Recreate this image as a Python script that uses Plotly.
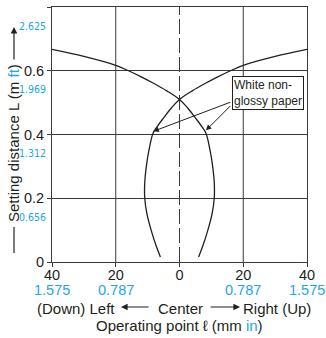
import plotly.graph_objects as go

# operating point (mm) vs setting distance (m)
curve_a_x = [-40, -30, -20, -16, -12, -8, -4, 0, 2.5, 5, 7, 8.3, 9.6, 10.4, 10.9, 10.9, 10.2, 8.9, 7.3, 6.0]
curve_a_y = [0.667, 0.645, 0.617, 0.600, 0.581, 0.560, 0.537, 0.510, 0.484, 0.452, 0.425, 0.404, 0.350, 0.300,
             0.250, 0.200, 0.150, 0.100, 0.050, 0.016]
curve_b_x = [40, 30, 20, 16, 12, 8, 4, 0, -2.5, -5, -7, -8.3, -9.6, -10.4, -10.9, -10.9, -10.2, -8.9, -7.3, -6.0]
curve_b_y = [0.667, 0.645, 0.617, 0.600, 0.581, 0.560, 0.537, 0.510, 0.484, 0.452, 0.425, 0.404, 0.350, 0.300,
             0.250, 0.200, 0.150, 0.100, 0.050, 0.016]

x_ticks = [-40, -20, 0, 20, 40]
x_tick_mm = ["40", "20", "0", "20", "40"]
x_tick_in = ["1.575", "0.787", "", "0.787", "1.575"]
y_ticks = [0, 0.2, 0.4, 0.6, 0.8]
y_tick_m = ["0", "0.2", "0.4", "0.6", "0.8"]
y_tick_ft = ["", "0.656", "1.312", "1.969", "2.625"]

INK = "#231f20"
GRID = "#3a3a3a"
BLUE = "#1ea7e1"
FONT = "Liberation Sans, Arial, sans-serif"

W, H = 326, 338
ML, MR, MT, MB = 52, 19, 7, 76
PW, PH = W - ML - MR, H - MT - MB


def px_x(px):
    return (px - ML) / PW


def px_y(py):
    return (H - MB - py) / PH


fig = go.Figure()
for cx, cy in [(curve_a_x, curve_a_y), (curve_b_x, curve_b_y)]:
    fig.add_trace(go.Scatter(x=cx, y=cy, mode="lines", line=dict(color=INK, width=1.3, shape="spline", smoothing=1.0),
                             showlegend=False, hoverinfo="skip"))

# vertical grid, center one dashed
for v in x_ticks[1:-1]:
    fig.add_vline(x=v, line=dict(color=GRID, width=1, dash="15px,4px" if v == 0 else "solid"), layer="below")

annotations = []
for v, t in zip(x_ticks, x_tick_in):
    if t:
        annotations.append(dict(x=v, xref="x", y=px_y(290), yref="paper", text=t, showarrow=False,
                                font=dict(family=FONT, size=14.5, color=BLUE), xanchor="center", yanchor="middle"))
for v, t in zip(y_ticks, y_tick_ft):
    if t:
        annotations.append(dict(x=px_x(45), xref="paper", y=v, yref="y", xshift=3, yshift=-18.5, text=t,
                                showarrow=False,
                                font=dict(family="Liberation Sans Narrow, DejaVu Sans Condensed, sans-serif",
                                          size=10.5, color=BLUE), xanchor="right", yanchor="middle"))

# bottom direction labels
annotations += [
    dict(x=px_x(117), xref="paper", y=px_y(308), yref="paper", text="(Down) Left", showarrow=False,
         font=dict(family=FONT, size=15, color=INK), xanchor="right", yanchor="middle"),
    dict(x=px_x(180), xref="paper", y=px_y(308), yref="paper", text="Center", showarrow=False,
         font=dict(family=FONT, size=15, color=INK), xanchor="center", yanchor="middle"),
    dict(x=px_x(241), xref="paper", y=px_y(308), yref="paper", text="Right (Up)", showarrow=False,
         font=dict(family=FONT, size=15, color=INK), xanchor="left", yanchor="middle"),
    dict(x=px_x(121), xref="paper", y=px_y(307), yref="paper", ax=29, ay=0, text="", showarrow=True,
         arrowhead=2, arrowsize=1.1, arrowwidth=1.2, arrowcolor=INK),
    dict(x=px_x(240), xref="paper", y=px_y(307), yref="paper", ax=-31, ay=0, text="", showarrow=True,
         arrowhead=2, arrowsize=1.1, arrowwidth=1.2, arrowcolor=INK),
    dict(x=px_x(179.5), xref="paper", y=px_y(325), yref="paper",
         text=f"Operating point ℓ (mm <span style='color:{BLUE}'>in</span>)", showarrow=False,
         font=dict(family=FONT, size=15, color=INK), xanchor="center", yanchor="middle"),
    # y title
    dict(x=px_x(13), xref="paper", y=px_y(143), yref="paper", textangle=-90,
         text=f"Setting distance L (m <span style='color:{BLUE}'>ft</span>)", showarrow=False,
         font=dict(family=FONT, size=15, color=INK), xanchor="center", yanchor="middle"),
    dict(x=px_x(14), xref="paper", y=px_y(27), yref="paper", ax=0, ay=34, text="", showarrow=True,
         arrowhead=2, arrowsize=1.1, arrowwidth=1.2, arrowcolor=INK),
    # label box and pointers
    dict(x=16.4, y=0.530, text="White non-<br>glossy paper", showarrow=False, align="left",
         xanchor="left", yanchor="middle", font=dict(family=FONT, size=12, color=INK),
         bgcolor="white", bordercolor=INK, borderwidth=1, borderpad=1),
    dict(x=-8.2, y=0.41, ax=16.4, ay=0.503, axref="x", ayref="y", text="", showarrow=True,
         arrowhead=2, arrowsize=1.1, arrowwidth=1, arrowcolor=INK),
    dict(x=8.3, y=0.413, ax=16.4, ay=0.494, axref="x", ayref="y", text="", showarrow=True,
         arrowhead=2, arrowsize=1.1, arrowwidth=1, arrowcolor=INK),
]

fig.add_shape(type="line", xref="paper", yref="paper", x0=px_x(14), x1=px_x(14), y0=px_y(227), y1=px_y(253),
              line=dict(color=INK, width=1.2))

fig.update_layout(
    width=W, height=H,
    margin=dict(l=ML, r=MR, t=MT, b=MB),
    plot_bgcolor="white", paper_bgcolor="white",
    annotations=annotations,
    xaxis=dict(range=[-40, 40], tickvals=x_ticks, ticktext=x_tick_mm, showgrid=False, zeroline=False,
               showline=True, mirror=True, linecolor=GRID, linewidth=1, ticks="outside", ticklen=4,
               tickcolor=GRID, ticklabelstandoff=-4, tickfont=dict(family=FONT, size=14.5, color=INK)),
    yaxis=dict(range=[0, 0.8], tickvals=y_ticks, ticktext=y_tick_m, showgrid=True, gridcolor=GRID, gridwidth=1,
               zeroline=False, showline=True, mirror=True, linecolor=GRID, linewidth=1, ticks="outside",
               ticklen=4, tickcolor=GRID, tickfont=dict(family=FONT, size=14.5, color=INK)),
)

# the page's default body margin would shift the chart by 8px
fig.write_html("out.html", config={"displayModeBar": False},
               post_script="document.body.style.margin='0';")
